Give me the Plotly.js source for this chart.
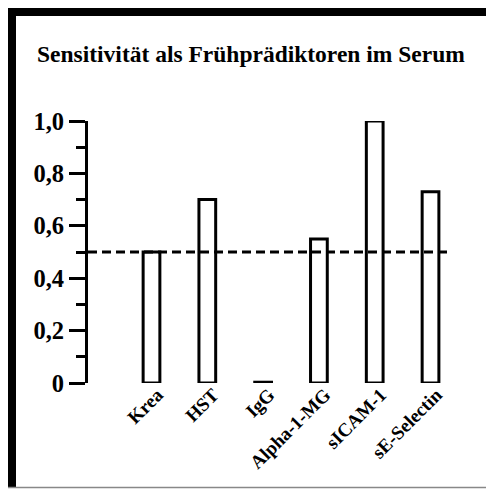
<!DOCTYPE html>
<html>
<head>
<meta charset="utf-8">
<script src="https://cdn.plot.ly/plotly-3.0.1.min.js"></script>
<style>html,body{margin:0;padding:0;background:#fff;}#chart{width:486px;height:489px;}</style>
</head>
<body>
<div id="chart"></div>
<script>
// Data
const categories = ["Krea", "HST", "IgG", "Alpha-1-MG", "sICAM-1", "sE-Selectin"];
const sensitivity = [0.5, 0.7, 0, 0.55, 1.0, 0.73];
const threshold = 0.5;
const yTickVals = [0, 0.2, 0.4, 0.6, 0.8, 1.0];
const yTickText = ["0", "0,2", "0,4", "0,6", "0,8", "1,0"];
const titleText = "Sensitivität als Frühprädiktoren im Serum";

const W = 486, H = 489;
const M = {l: 88, r: 34, t: 121, b: 106};
const PW = W - M.l - M.r, PH = H - M.t - M.b;
const px = v => (v - M.l) / PW;          // pixel x -> paper
const py = v => (H - M.b - v) / PH;      // pixel y -> paper
const FONT = '"Liberation Serif", "Times New Roman", Times, serif';

// zero-valued bars are drawn as a flat outline (tiny height so the stroke shows)
const drawY = sensitivity.map(v => v === 0 ? 0.003 : v);

const trace = {
  type: 'bar',
  x: categories.map((c, i) => i),
  y: drawY,
  width: 0.3,
  marker: {color: '#ffffff', line: {color: '#000000', width: 3}},
  cliponaxis: false,
  hoverinfo: 'skip'
};

const layout = {
  width: W, height: H,
  margin: M,
  paper_bgcolor: '#ffffff', plot_bgcolor: '#ffffff',
  showlegend: false,
  font: {family: FONT, color: '#000000'},
  title: {
    text: '<b>' + titleText + '</b>',
    font: {family: FONT, size: 23.5, color: '#000'},
    x: 37 / W, xref: 'container', xanchor: 'left',
    y: 1 - 54 / H, yref: 'container', yanchor: 'middle'
  },
  xaxis: {
    range: [-1.138, 5.385],
    tickmode: 'array',
    tickvals: categories.map((c, i) => i),
    ticktext: categories.map(c => '<b>' + c + '</b>'),
    tickangle: -45,
    tickfont: {family: FONT, size: 19, color: '#000'},
    ticklabelshift: 6,
    ticklabelstandoff: -4,
    showline: false, showgrid: false, zeroline: false,
    ticks: '', ticklen: 0
  },
  yaxis: {
    range: [0, 1],
    tickmode: 'array',
    tickvals: yTickVals,
    ticktext: yTickText.map(t => '<b>' + t + '</b>'),
    tickfont: {family: FONT, size: 24.5, color: '#000'},
    showline: true, linecolor: '#000', linewidth: 3,
    ticks: 'outside', ticklen: 16, tickwidth: 3, tickcolor: '#000',
    minor: {tickmode: 'linear', tick0: 0, dtick: 0.1, ticks: 'outside', ticklen: 9, tickwidth: 3, tickcolor: '#000', showgrid: false},
    showgrid: false, zeroline: false
  },
  shapes: [
    {type: 'line', xref: 'paper', yref: 'y', x0: 0, x1: 1, y0: threshold, y1: threshold,
     line: {color: '#000', width: 3, dash: '9px,5px'}},
    // frame
    {type: 'rect', xref: 'paper', yref: 'paper', x0: px(8), x1: px(486), y0: py(8), y1: py(16),
     fillcolor: '#000', line: {width: 0}},
    {type: 'rect', xref: 'paper', yref: 'paper', x0: px(8), x1: px(16), y0: py(8), y1: py(488),
     fillcolor: '#000', line: {width: 0}},
    {type: 'line', xref: 'paper', yref: 'paper', x0: px(8), x1: px(486), y0: py(487.5), y1: py(487.5),
     line: {color: '#888', width: 1.5}}
  ]
};

Plotly.newPlot('chart', [trace], layout, {staticPlot: true, displayModeBar: false});
</script>
</body>
</html>
